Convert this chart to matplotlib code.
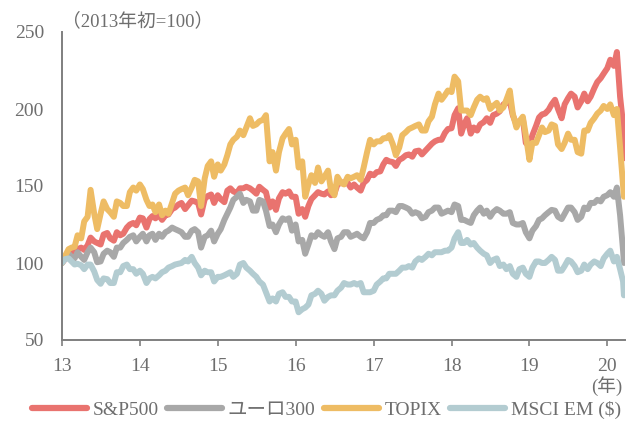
import matplotlib
matplotlib.use("Agg")
import matplotlib.pyplot as plt
import matplotlib.dates as mdates
import pandas as pd

plt.rcParams['font.family'] = ['Liberation Serif', 'Noto Sans CJK JP']

# Semi-monthly observations (1st and 15th of each month), 2013-01-01 .. 2020-03-15, plus 2020-03-19
dates = pd.date_range('2013-01-01', periods=174, freq='SMS').append(pd.DatetimeIndex(['2020-03-19']))

# Index levels, start of 2013 = 100
spx = [
    100, 102.5, 106, 106.5, 106.5, 109, 110, 108.5, 111.5, 116.5, 114, 113,
    112, 118.5, 119.5, 116, 114.5, 120, 118, 119, 123, 125, 126, 124.5,
    129.5, 129, 123, 128.5, 130.5, 129, 131, 128, 131, 131.5, 135, 136,
    138, 139, 135, 137.5, 140.5, 140, 139, 131.5, 141.5, 143.5, 144.5, 139,
    144, 141.5, 139.5, 147, 148.5, 146.5, 145.5, 148.5, 148.5, 149.5, 148.5, 147,
    145, 149.5, 147.5, 146, 136, 140, 134.5, 142, 146, 145, 146.5, 143,
    143, 132, 135, 130, 137, 141.5, 144, 146, 145, 144.5, 146.5, 144,
    145, 151, 152, 152.5, 152, 149, 151, 149, 147, 152, 154, 158,
    157, 159, 159.5, 164, 167, 166, 165.5, 163, 167, 168, 170, 170.5,
    169, 172.5, 173, 170.5, 173, 175, 177.5, 179, 180, 180, 184.5, 187,
    187.5, 196, 200.5, 184, 190, 194, 184, 188, 186, 190, 191.5, 194,
    191, 196, 197, 198.5, 203, 204, 205, 196, 190, 192, 194, 178,
    176, 183, 189, 194.5, 196.5, 197, 199.5, 203, 206, 200, 194, 203,
    207, 210, 208, 201, 205, 210, 205, 208, 213.5, 217.5, 220, 223,
    226.5, 232, 228, 237, 208, 190, 168,
]

euro300 = [
    100, 104, 106, 104, 103, 107, 104, 102, 107, 110, 107, 100.5,
    101, 106, 108, 107, 104, 110, 110, 113, 115, 117, 118, 114,
    117, 119, 114, 118, 119, 115, 119, 117, 120, 121, 123, 122,
    121, 120, 117, 117, 121, 122, 120, 110, 117, 118, 121, 114,
    119, 122, 128, 132, 136, 141, 143, 145, 139, 141, 140, 134,
    134, 141, 140, 134, 124, 125, 120, 125, 129, 128, 129, 121,
    125, 114, 115, 106, 112, 118, 117, 120, 118, 117, 120, 114,
    109, 116, 117, 120, 120, 117, 118, 119, 117, 116, 120, 126,
    126, 128, 129, 131, 131, 134, 134, 133, 137, 137, 136, 135,
    132, 133, 132, 129, 130, 133, 134, 136, 136, 132, 133, 134,
    133, 138, 137, 128, 128, 127, 126, 131, 134, 136, 132, 134,
    130, 133, 135, 134, 132, 132, 133, 126, 125, 125, 126, 120,
    116, 121, 124, 128, 129, 131, 133, 134.5, 134, 130, 128.5, 132,
    136, 136, 133, 128, 130, 136, 135, 139, 139, 141, 140, 143,
    144, 146, 143, 149, 131, 108, 100,
]

topix = [
    100, 104.5, 109, 110, 110.5, 118, 116, 127, 130, 147.5, 132, 122,
    132, 140, 135, 133, 130, 140, 139, 137, 137, 146, 149, 147,
    151, 148, 141, 137, 138, 133, 138, 131, 134, 132, 139, 145,
    147, 148, 149, 144, 149, 154, 153, 137, 155, 163, 166, 156,
    164, 160, 164, 170, 177, 180, 182, 186, 183, 188, 194, 189,
    190, 192, 193, 196, 166, 172, 160, 172, 181, 184, 187, 177,
    180, 162, 166, 143, 151, 157, 152, 162, 153, 156, 160, 147,
    144, 156, 152, 151, 156, 155, 156, 157, 154, 162, 172, 180,
    177, 179, 179, 181, 181, 183, 177, 170, 175, 183, 185, 187,
    188, 189, 190, 186, 186, 192, 195, 203, 210, 206, 209, 212,
    211, 221, 218, 199, 199, 199, 196, 201, 206, 208, 206, 207,
    200, 202, 204, 199, 201, 206, 212, 197, 188, 192, 195, 183,
    167, 178, 178, 183, 188, 185, 186, 190, 189, 177, 174, 178,
    184, 180, 180, 172, 171, 186, 186, 191, 194, 197, 199, 202,
    200, 203, 196, 200, 175, 150, 143,
]

msci_em = [
    100, 102.5, 103, 101, 99, 99.5, 98.5, 96, 99, 99, 94.5, 89,
    86.5, 90, 89.5, 87, 87, 94, 94, 98, 99, 96, 96, 93,
    95, 93, 87, 90, 91, 90, 92, 94, 95, 97, 98, 99,
    99.5, 100, 102, 101, 104, 100, 97, 92, 95, 94, 94, 88,
    91, 91, 92, 93, 94, 91, 93, 99, 100, 97, 95, 93,
    91, 88, 86, 81, 75, 77, 75, 80, 81, 78, 78, 75,
    75, 68, 70, 71, 73, 79, 80, 82, 80, 75.5, 78, 79,
    79, 82, 84, 87, 86, 86, 87, 86, 87, 81, 81, 81,
    82, 86, 88, 90, 90, 93, 93, 93, 95, 97, 97, 98,
    97, 101, 103, 102, 104, 106, 105, 107, 107, 107, 108, 108,
    110, 116, 120, 113, 113, 115, 112, 113, 110, 108, 106, 105,
    100, 102, 103, 98, 99, 96, 98, 93, 91, 96, 97, 93,
    91, 97, 101, 101, 100, 100, 102, 104, 102, 95, 95, 98,
    102, 101, 98, 94, 95, 99, 96, 99, 101, 100, 98, 103,
    106, 108, 101, 104, 96, 88, 79,
]

series = [
    ('S&P500', spx, '#E9736F'),
    ('ユーロ300', euro300, '#A8A8A8'),
    ('TOPIX', topix, '#EEBC64'),
    ('MSCI EM ($)', msci_em, '#B3CCD1'),
]

year_ticks = pd.date_range('2013-01-01', '2020-01-01', freq='YS')

fig = plt.figure(figsize=(6.28, 4.21), dpi=100)
ax = fig.add_axes([62 / 628, 1 - 340 / 421, 563 / 628, 308 / 421])

for name, vals, color in series:
    ax.plot(dates, vals, color=color, lw=4.3, label=name,
            solid_capstyle='round', solid_joinstyle='round')

ax.set_ylim(50, 250)
ax.set_yticks([50, 100, 150, 200, 250])
ax.set_xlim(pd.Timestamp('2013-01-01'), pd.Timestamp('2020-03-24'))
ax.set_xticks(year_ticks)
ax.xaxis.set_major_formatter(mdates.DateFormatter('%y'))

axis_gray = '#7f7f7f'
label_gray = '#6e6e6e'
for side in ('top', 'right'):
    ax.spines[side].set_visible(False)
for side in ('left', 'bottom'):
    ax.spines[side].set_color(axis_gray)
    ax.spines[side].set_linewidth(1.4)

ax.tick_params(axis='y', length=0, pad=13, labelsize=14, labelcolor=label_gray)
ax.tick_params(axis='x', length=4, width=1.2, color=axis_gray, direction='out',
               pad=9, labelsize=14, labelcolor=label_gray)

fig.text(62 / 628, 1 - 21 / 421, '（2013年初=100）', ha='left', va='center',
         fontsize=13.5, color=label_gray)
fig.text(607 / 628, 1 - 386 / 421, '(年)', ha='center', va='center',
         fontsize=13.5, color=label_gray)

leg = fig.legend(loc='center', bbox_to_anchor=(0.52, 1 - 410 / 421), ncol=4,
                 frameon=False, fontsize=14, handlelength=2.8, handletextpad=0.3,
                 columnspacing=0.45, borderaxespad=0)
for text in leg.get_texts():
    text.set_color(label_gray)
for line in leg.get_lines():
    line.set_linewidth(4.5)

fig.savefig('out.png', dpi=100)
